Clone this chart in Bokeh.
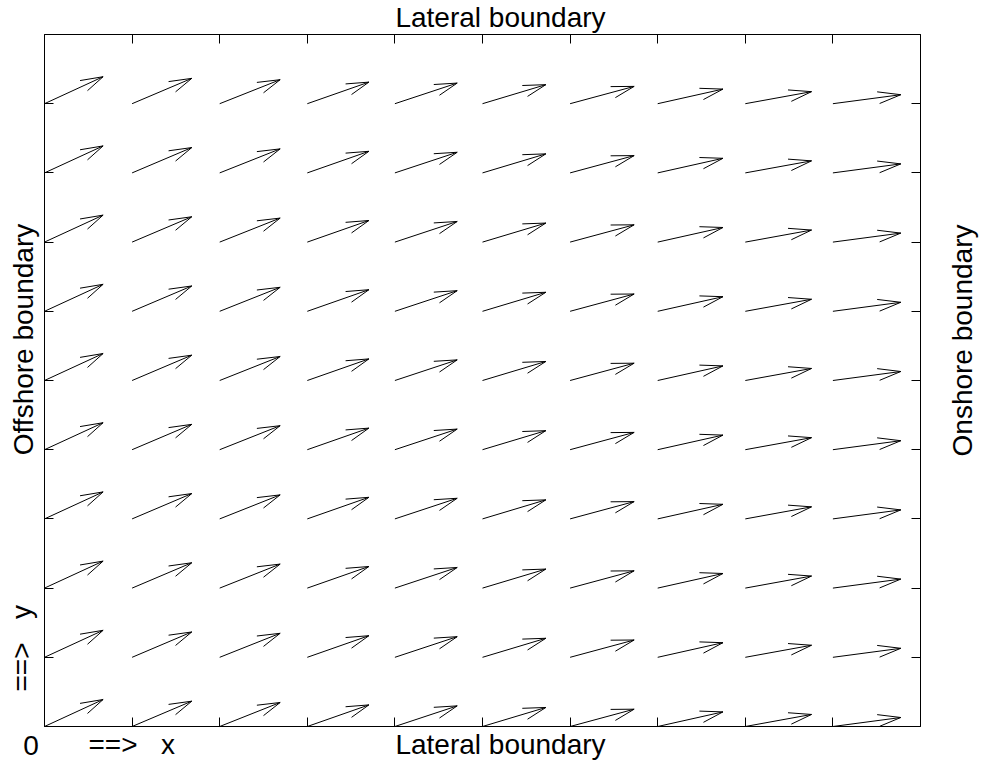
import numpy as np
from bokeh.plotting import figure
from bokeh.models import LinearAxis, FixedTicker, Label
from bokeh.embed import file_html
from bokeh.resources import INLINE

# grid positions (columns along x, rows along y)
x_pos = [0, 1, 2, 3, 4, 5, 6, 7, 8, 9]
y_pos = [0, 1, 2, 3, 4, 5, 6, 7, 8, 9]
# displayed vector components per column (field varies only with x)
u_col = [0.669, 0.681, 0.690, 0.703, 0.711, 0.723, 0.731, 0.745, 0.756, 0.775]
v_col = [0.390, 0.366, 0.347, 0.312, 0.298, 0.275, 0.250, 0.211, 0.174, 0.130]
tick_vals = [0, 1, 2, 3, 4, 5, 6, 7, 8, 9, 10]
box = (0, 10)

alpha, beta = 0.33, 0.33

X, Y = np.meshgrid(np.array(x_pos, float), np.array(y_pos, float))
U = np.tile(np.array(u_col), (len(y_pos), 1))
V = np.tile(np.array(v_col), (len(y_pos), 1))
X, Y, U, V = X.ravel(), Y.ravel(), U.ravel(), V.ravel()
TX, TY = X + U, Y + V
B1x = TX - alpha * (U + beta * V)
B1y = TY - alpha * (V - beta * U)
B2x = TX - alpha * (U - beta * V)
B2y = TY - alpha * (V + beta * U)

FONT = "Liberation Sans"
FS = "28px"
W, H = 983, 762
FL, FB = 44.0, 726.0      # page position of data (0, 0)
SX, SY = 87.6, 69.2       # pixels per data unit
NB = "\u00a0"

x_range = (-FL / SX, (W - FL) / SX)
y_range = (-(H - FB) / SY, FB / SY)

p = figure(width=W, height=H, x_range=x_range, y_range=y_range,
           output_backend="svg", toolbar_location=None,
           min_border_left=0, min_border_right=0, min_border_top=0, min_border_bottom=0,
           x_axis_location=None, y_axis_location=None)
p.xgrid.visible = False
p.ygrid.visible = False
p.outline_line_color = None
p.background_fill_color = "white"
p.border_fill_color = "white"

def mk_axis(loc_value):
    ax = LinearAxis(ticker=FixedTicker(ticks=tick_vals), fixed_location=loc_value, bounds=box)
    ax.major_tick_in = 9
    ax.major_tick_out = 0
    ax.minor_tick_line_color = None
    ax.major_label_text_color = None
    ax.major_label_text_font_size = "1px"
    ax.major_label_standoff = 0
    ax.axis_line_color = "black"
    ax.major_tick_line_color = "black"
    ax.axis_line_width = 1
    return ax

p.add_layout(mk_axis(box[0]), "below")
p.add_layout(mk_axis(box[1]), "above")
p.add_layout(mk_axis(box[0]), "left")
p.add_layout(mk_axis(box[1]), "right")

kw = dict(line_color="black", line_width=1)
p.segment(X, Y, TX, TY, **kw)
p.segment(TX, TY, B1x, B1y, **kw)
p.segment(TX, TY, B2x, B2y, **kw)

def lab(text, px, py, align="center", baseline="alphabetic", angle=0.0):
    # px, py: canvas pixel position from the top-left corner
    p.add_layout(Label(x=px, y=py, x_units="canvas", y_units="canvas", text=text,
                       text_font=FONT, text_font_size=FS, level="overlay",
                       text_color="black", text_align=align, text_baseline=baseline,
                       angle=angle))

lab("Lateral boundary", 500, 17)
lab("Lateral boundary", 500, 744)
lab("0", 30.5, 745)
lab("==>" + NB * 3 + "x", 88, 744, align="left")
lab("==>" + NB * 3 + "y", 21, 691, align="left", baseline="middle", angle=np.pi / 2)
lab("Offshore boundary", 22.5, 339, baseline="middle", angle=np.pi / 2)
lab("Onshore boundary", 962, 340, baseline="middle", angle=np.pi / 2)

open("out.html", "w").write(file_html(p, INLINE))
